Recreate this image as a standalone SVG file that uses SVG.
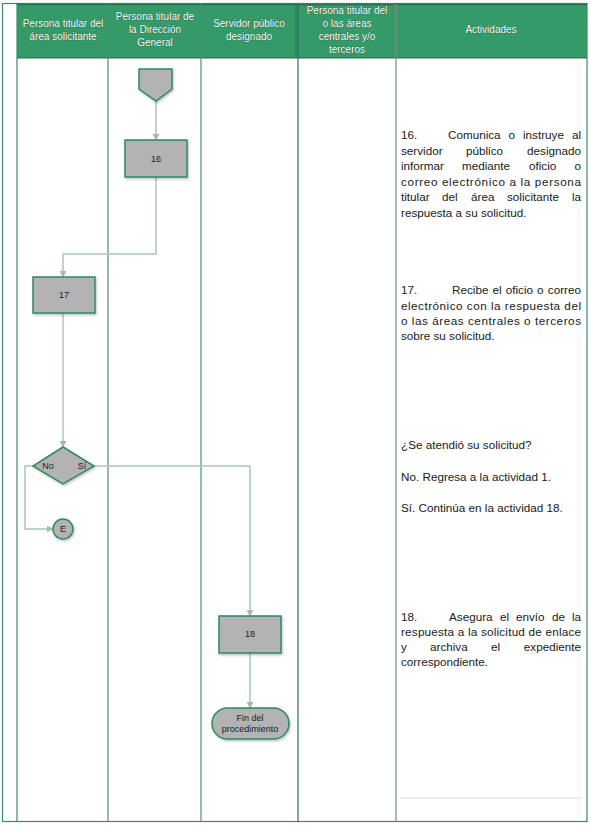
<svg xmlns="http://www.w3.org/2000/svg" width="590" height="826" viewBox="0 0 590 826">
<defs>
<style>
.hdr{font-family:"Liberation Sans",Arial,sans-serif;font-size:10px;fill:#ffffff;stroke:#1d4f37;stroke-width:0.5px;paint-order:stroke;text-anchor:middle}
.txt{font-family:"Liberation Sans",Arial,sans-serif;font-size:11.7px;fill:#1a1a1a}
.lbl{font-family:"Liberation Sans",Arial,sans-serif;font-size:9px;fill:#1a1a1a;text-anchor:middle}
.node{fill:#b3b3b3;stroke:#2e8b63;stroke-width:1.5}
.col{stroke:#3b8a68;stroke-width:1.2;fill:none}
.conn{stroke:#abc8b0;stroke-width:1.5;fill:none}
</style>
<marker id="arr" viewBox="0 0 10 10" refX="9" refY="5" markerWidth="7" markerHeight="7" orient="auto" markerUnits="userSpaceOnUse">
<path d="M0,0 L10,5 L0,10 z" fill="#9fbfa4"/>
</marker>
<filter id="sh" x="-10%" y="-10%" width="130%" height="130%">
<feDropShadow dx="1" dy="1.5" stdDeviation="0.8" flood-color="#000" flood-opacity="0.25"/>
</filter>
</defs>
<rect x="0" y="0" width="590" height="826" fill="#ffffff"/>
<g id="frame">
<rect x="17" y="4" width="570" height="54" fill="#349a68"/>
<rect x="2.5" y="3.5" width="584.5" height="818" class="col" stroke="#2e7d5b"/>
<line x1="17" y1="3" x2="17" y2="822" class="col"/>
<line x1="17" y1="58" x2="587" y2="58" stroke="#2a6f55" stroke-width="1.2"/>
<line x1="17" y1="4.5" x2="587" y2="4.5" stroke="#2a6f55" stroke-width="1.5"/>
<line x1="108" y1="4" x2="108" y2="822" stroke="#4d8f6b" stroke-width="1.2"/>
<line x1="201" y1="4" x2="201" y2="822" stroke="#4a8f86" stroke-width="1.2"/>
<line x1="298" y1="4" x2="298" y2="822" stroke="#2c6e64" stroke-width="1.2"/>
<line x1="296" y1="4" x2="296" y2="58" stroke="#2c6e64" stroke-width="0.8"/>
<line x1="396" y1="4" x2="396" y2="822" stroke="#7a8c86" stroke-width="1.2"/>
<line x1="394" y1="4" x2="394" y2="58" stroke="#5a8c76" stroke-width="0.8"/>
<line x1="400" y1="798" x2="582" y2="798" stroke="#e6e6e6" stroke-width="1.5"/>
</g>
<g id="headers">
<text class="hdr" x="63" y="27">Persona titular del</text>
<text class="hdr" x="63" y="40">área solicitante</text>
<text class="hdr" x="155" y="20">Persona titular de</text>
<text class="hdr" x="155" y="33">la Dirección</text>
<text class="hdr" x="155" y="46">General</text>
<text class="hdr" x="249" y="27">Servidor público</text>
<text class="hdr" x="249" y="40">designado</text>
<text class="hdr" x="347" y="14">Persona titular del</text>
<text class="hdr" x="347" y="27">o las áreas</text>
<text class="hdr" x="347" y="40">centrales y/o</text>
<text class="hdr" x="347" y="53">terceros</text>
<text class="hdr" x="491" y="33">Actividades</text>
</g>
<g id="connectors">
<line class="conn" x1="156" y1="101" x2="156" y2="140" marker-end="url(#arr)"/>
<polyline class="conn" points="156,177 156,254 63,254 63,277" marker-end="url(#arr)"/>
<line class="conn" x1="63" y1="313" x2="63" y2="447" marker-end="url(#arr)"/>
<polyline class="conn" points="33,466 25,466 25,529 53,529" marker-end="url(#arr)"/>
<polyline class="conn" points="94,466 250,466 250,616" marker-end="url(#arr)"/>
<line class="conn" x1="250" y1="653" x2="250" y2="708" marker-end="url(#arr)"/>
</g>
<g id="start">
<polygon class="node" filter="url(#sh)" points="139,69 172,69 172,89 156,101 139,89"/>
</g>
<g id="n16">
<rect class="node" filter="url(#sh)" x="125" y="140" width="62" height="37"/>
<text class="lbl" x="156" y="162">16</text>
</g>
<g id="n17">
<rect class="node" filter="url(#sh)" x="33" y="277" width="62" height="36"/>
<text class="lbl" x="64" y="298">17</text>
</g>
<g id="decision">
<polygon class="node" filter="url(#sh)" points="63,447 94,466 63,484 33,466"/>
<text class="lbl" x="48" y="469">No</text>
<text class="lbl" x="82" y="469">Sí</text>
</g>
<g id="connE">
<circle class="node" filter="url(#sh)" cx="63" cy="529" r="10"/>
<text class="lbl" x="63" y="532">E</text>
</g>
<g id="n18">
<rect class="node" filter="url(#sh)" x="219" y="616" width="62" height="37"/>
<text class="lbl" x="250" y="637">18</text>
</g>
<g id="end">
<rect class="node" filter="url(#sh)" x="212" y="708" width="77" height="31" rx="15.5" ry="15.5"/>
<text class="lbl" x="250" y="721" font-size="8.5">Fin del</text>
<text class="lbl" x="250" y="732" font-size="8.5">procedimiento</text>
</g>
<g id="activities">
<text class="txt" x="401" y="139">16.</text>
<text class="txt" y="139"><tspan x="448">Comunica</tspan><tspan x="508.6">o</tspan><tspan x="523">instruye</tspan><tspan x="581" text-anchor="end">al</tspan></text>
<text class="txt" y="155"><tspan x="401">servidor</tspan><tspan x="466">público</tspan><tspan x="581" text-anchor="end">designado</tspan></text>
<text class="txt" y="170"><tspan x="401">informar</tspan><tspan x="462">mediante</tspan><tspan x="529">oficio</tspan><tspan x="581" text-anchor="end">o</tspan></text>
<text class="txt" x="401" y="186" textLength="180" lengthAdjust="spacing">correo electrónico a la persona</text>
<text class="txt" y="201"><tspan x="401">titular</tspan><tspan x="442">del</tspan><tspan x="471">área</tspan><tspan x="507">solicitante</tspan><tspan x="581" text-anchor="end">la</tspan></text>
<text class="txt" x="401" y="217">respuesta a su solicitud.</text>

<text class="txt" x="401" y="294">17.</text>
<text class="txt" y="294"><tspan x="452">Recibe</tspan><tspan x="492.5">el</tspan><tspan x="505.7">oficio</tspan><tspan x="537.1">o</tspan><tspan x="581" text-anchor="end">correo</tspan></text>
<text class="txt" x="401" y="310" textLength="180" lengthAdjust="spacing">electrónico con la respuesta del</text>
<text class="txt" x="401" y="325" textLength="180" lengthAdjust="spacing">o las áreas centrales o terceros</text>
<text class="txt" x="401" y="340">sobre su solicitud.</text>

<text class="txt" x="401" y="449">¿Se atendió su solicitud?</text>
<text class="txt" x="401" y="481">No. Regresa a la actividad 1.</text>
<text class="txt" x="401" y="512">Sí. Continúa en la actividad 18.</text>

<text class="txt" x="401" y="621">18.</text>
<text class="txt" y="621"><tspan x="449">Asegura</tspan><tspan x="500">el</tspan><tspan x="516">envío</tspan><tspan x="552">de</tspan><tspan x="581" text-anchor="end">la</tspan></text>
<text class="txt" x="401" y="636" textLength="180" lengthAdjust="spacing">respuesta a la solicitud de enlace</text>
<text class="txt" y="651"><tspan x="401">y</tspan><tspan x="430">archiva</tspan><tspan x="491">el</tspan><tspan x="581" text-anchor="end">expediente</tspan></text>
<text class="txt" x="401" y="666">correspondiente.</text>
</g>
</svg>
